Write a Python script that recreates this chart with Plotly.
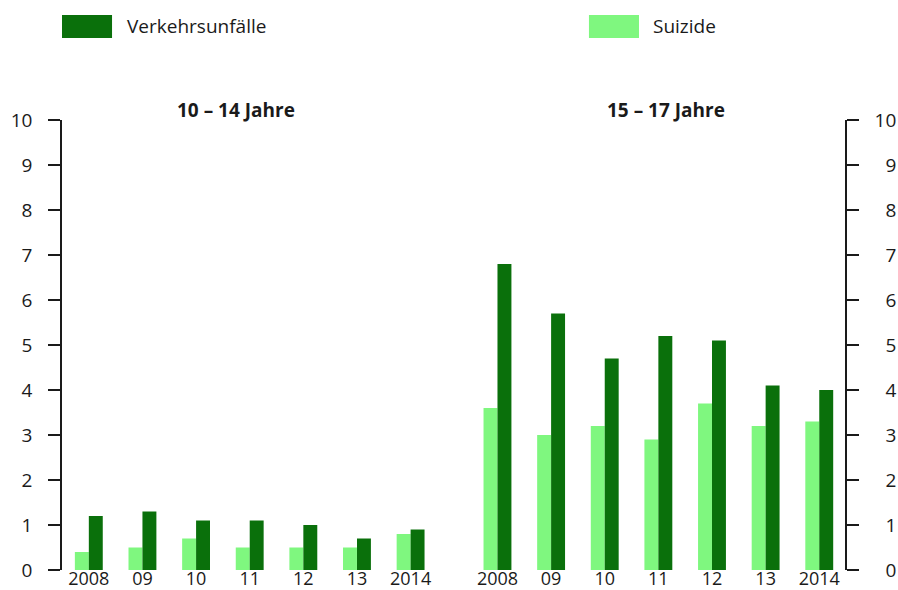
import plotly.graph_objects as go

years = ["2008", "09", "10", "11", "12", "13", "2014"]
groups = ["10 – 14 Jahre", "15 – 17 Jahre"]
series_names = ["Verkehrsunfälle", "Suizide"]

verkehr_10_14 = [1.2, 1.3, 1.1, 1.1, 1.0, 0.7, 0.9]
suizid_10_14 = [0.4, 0.5, 0.7, 0.5, 0.5, 0.5, 0.8]
verkehr_15_17 = [6.8, 5.7, 4.7, 5.2, 5.1, 4.1, 4.0]
suizid_15_17 = [3.6, 3.0, 3.2, 2.9, 3.7, 3.2, 3.3]

DARK = "#0a700b"
LIGHT = "#7ff77f"
TXT = "#1a1a1a"
FONT = "Open Sans"
FS = 19

GAP = 7.62
x_left = list(range(len(years)))
x_right = [i + GAP for i in range(len(years))]
xs = x_left + x_right
verkehr = verkehr_10_14 + verkehr_15_17
suizid = suizid_10_14 + suizid_15_17
W = 0.26

fig = go.Figure()
fig.add_trace(go.Bar(x=xs, y=suizid, name=series_names[1], marker_color=LIGHT,
                     marker_line_width=0, width=W, offset=-W, showlegend=False))
fig.add_trace(go.Bar(x=xs, y=verkehr, name=series_names[0], marker_color=DARK,
                     marker_line_width=0, width=W, offset=0, showlegend=False))
fig.add_trace(go.Scatter(x=[xs[0]], y=[0], yaxis="y2", mode="markers",
                         marker=dict(opacity=0), showlegend=False, hoverinfo="skip"))

yticks = list(range(0, 11))
axis_common = dict(range=[0, 10], tickvals=yticks, showgrid=False, zeroline=False,
                   showline=True, linecolor=TXT, linewidth=1.5,
                   ticks="outside", ticklen=12, tickwidth=1.5, tickcolor=TXT,
                   ticklabelstandoff=12, tickfont=dict(size=FS, color=TXT), automargin=False)
fig.update_layout(
    width=898, height=590, autosize=False,
    margin=dict(l=62, r=53, t=120, b=20, autoexpand=False),
    paper_bgcolor="white", plot_bgcolor="white",
    font=dict(family=FONT, size=FS, color=TXT),
    barmode="overlay",
    xaxis=dict(range=[-0.5, 14.1], tickvals=xs, ticktext=years + years,
               showgrid=False, zeroline=False, showline=False, ticks="",
               tickfont=dict(size=18, color=TXT), ticklabelstandoff=-4, automargin=False),
    yaxis=axis_common,
    yaxis2=dict(axis_common,
                ticktext=[("\u2007" + str(v)) if v < 10 else str(v) for v in yticks],
                overlaying="y", side="right"),
    showlegend=False,
)

# group titles
fig.add_annotation(x=0.222, y=1.022, xref="paper", yref="paper", text="<b>" + groups[0] + "</b>",
                   showarrow=False, font=dict(size=FS, color=TXT), xanchor="center", yanchor="middle")
fig.add_annotation(x=0.771, y=1.022, xref="paper", yref="paper", text="<b>" + groups[1] + "</b>",
                   showarrow=False, font=dict(size=FS, color=TXT), xanchor="center", yanchor="middle")

# legend (drawn manually)
legend_items = [(series_names[0], DARK, 0.0, 0.0639, 0.0805), (series_names[1], LIGHT, 0.673, 0.7369, 0.7522)]
for name, col, x0, x1, xt in legend_items:
    fig.add_shape(type="rect", xref="paper", yref="paper", x0=x0, x1=x1, y0=1.1822, y1=1.2333,
                  fillcolor=col, line_width=0)
    fig.add_annotation(x=xt, y=1.2078, xref="paper", yref="paper", text=name, showarrow=False,
                       xanchor="left", yanchor="middle", font=dict(size=FS, color=TXT))

post = ("document.body.style.margin='0';document.body.style.padding='0';"
        "var gd=document.getElementById('{plot_id}');"
        "Plotly.relayout(gd,{width:898,height:590});")
fig.write_html("out.html", post_script=post,
               config={"responsive": False, "displayModeBar": False})
